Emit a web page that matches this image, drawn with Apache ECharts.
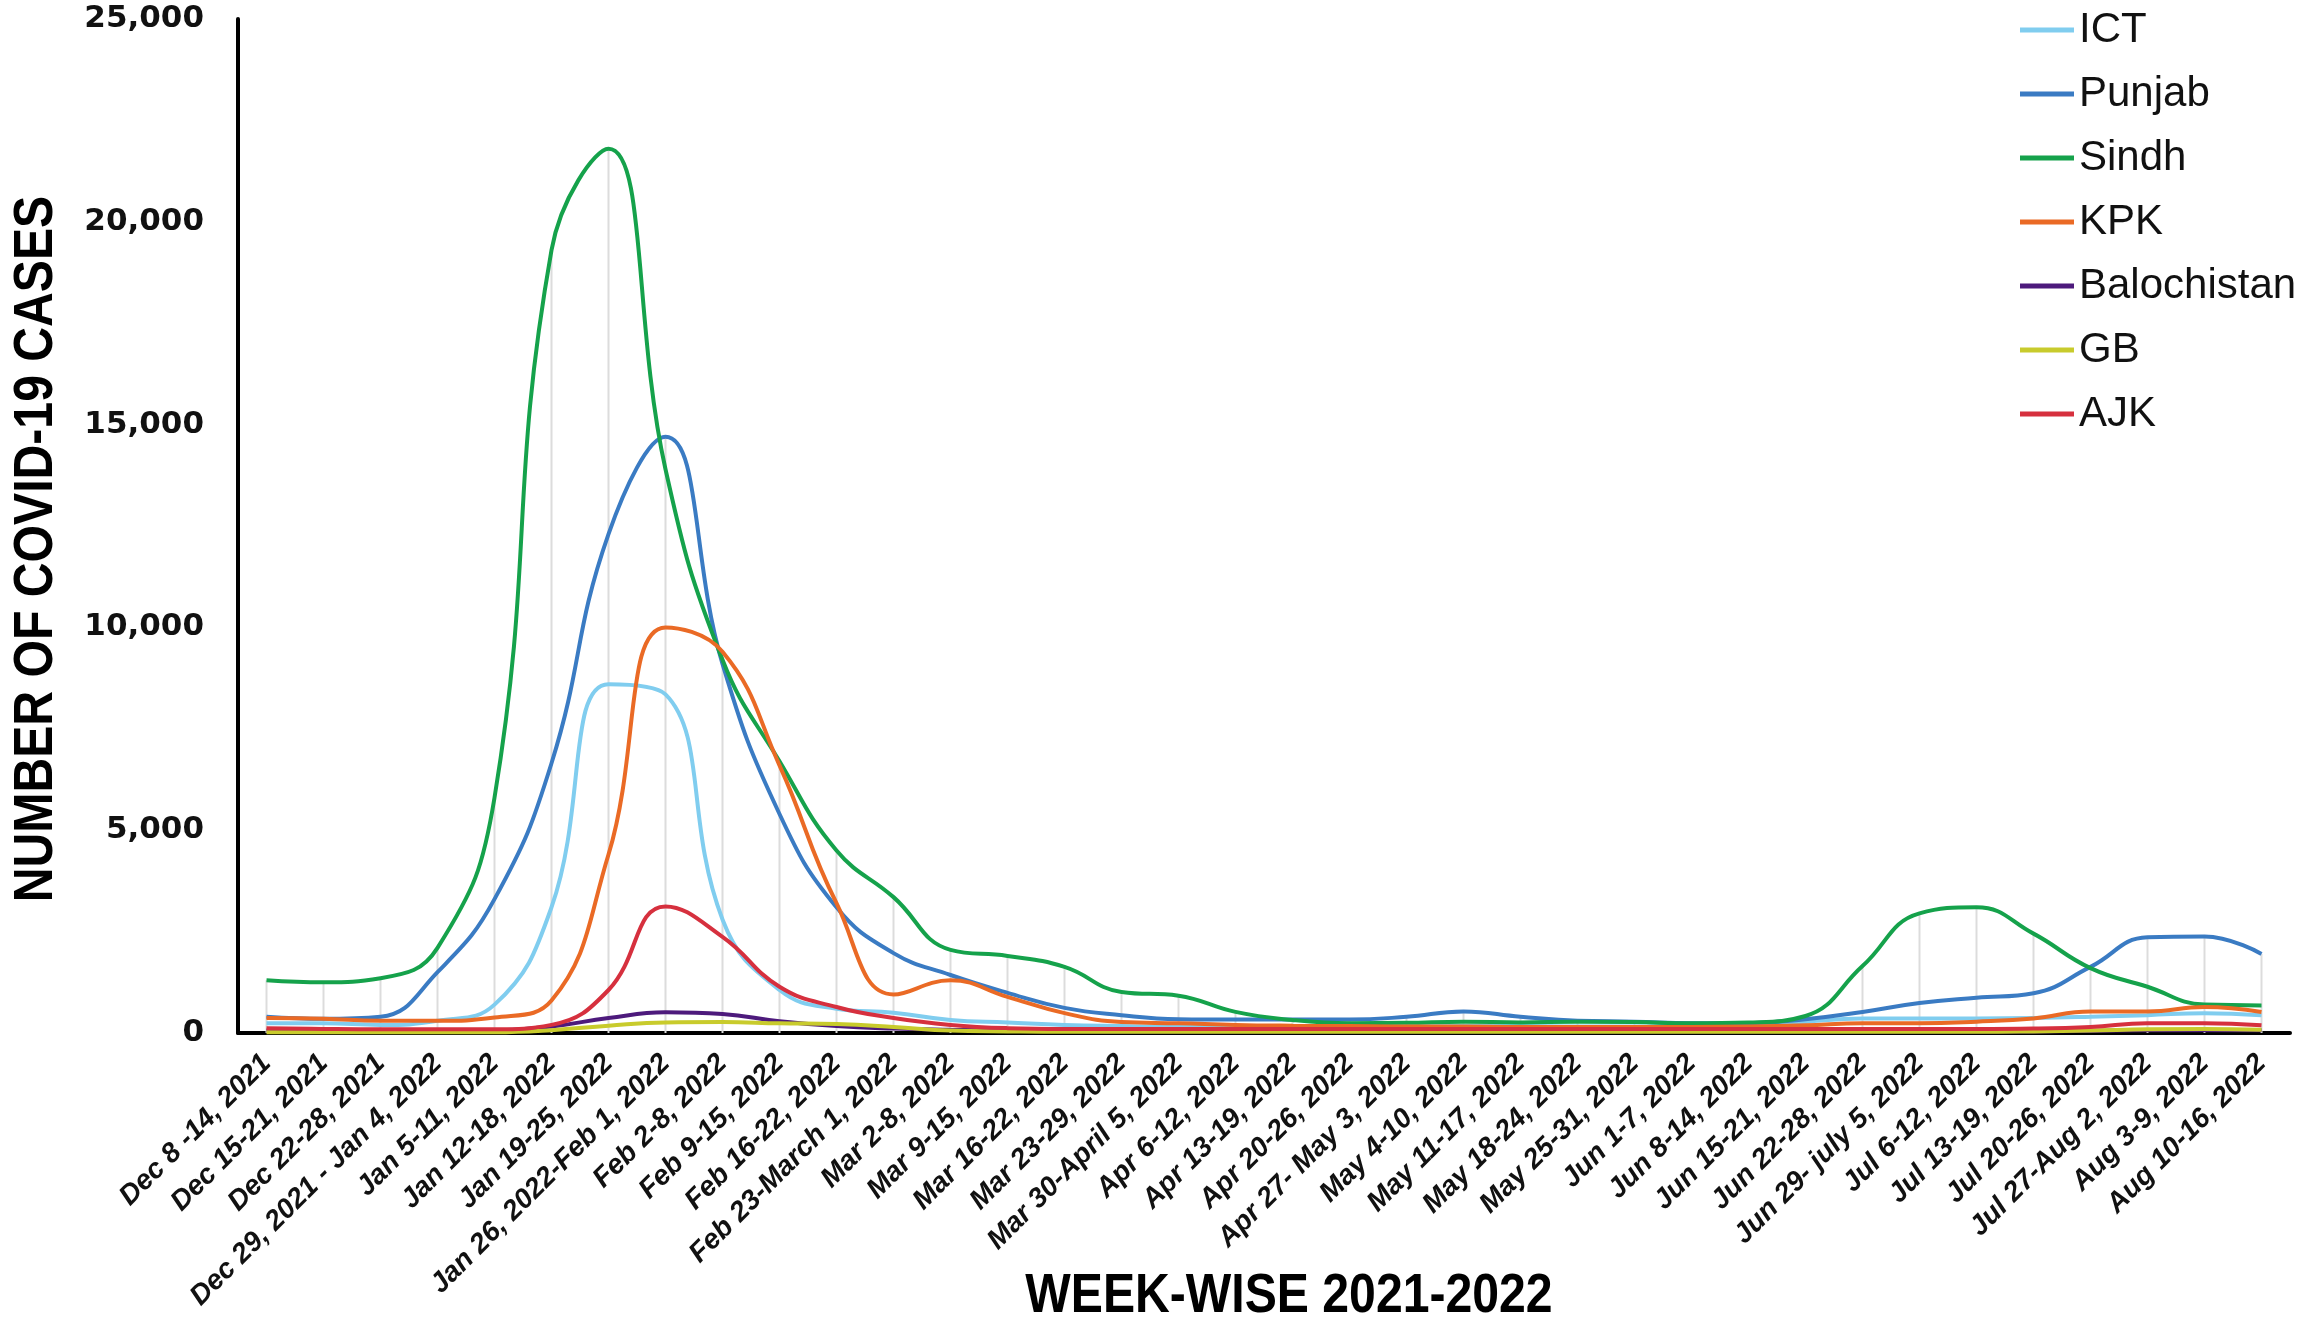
<!DOCTYPE html>
<html>
<head>
<meta charset="utf-8">
<script src="https://cdn.jsdelivr.net/npm/echarts@6/dist/echarts.min.js"></script>
<style>html,body{margin:0;padding:0;background:#fff;}#chart{width:2323px;height:1319px;}</style>
</head>
<body>
<div id="chart"></div>
<script>
const categories = ["Dec 8 -14, 2021","Dec 15-21, 2021","Dec 22-28, 2021","Dec 29, 2021 - Jan 4, 2022","Jan 5-11, 2022","Jan 12-18, 2022","Jan 19-25, 2022","Jan 26, 2022-Feb 1, 2022","Feb 2-8, 2022","Feb 9-15, 2022","Feb 16-22, 2022","Feb 23-March 1, 2022","Mar 2-8, 2022","Mar 9-15, 2022","Mar 16-22, 2022","Mar 23-29, 2022","Mar 30-April 5, 2022","Apr 6-12, 2022","Apr 13-19, 2022","Apr 20-26, 2022","Apr 27- May 3, 2022","May 4-10, 2022","May 11-17, 2022","May 18-24, 2022","May 25-31, 2022","Jun 1-7, 2022","Jun 8-14, 2022","Jun 15-21, 2022","Jun 22-28, 2022","Jun 29- july 5, 2022","Jul 6-12, 2022","Jul 13-19, 2022","Jul 20-26, 2022","Jul 27-Aug 2, 2022","Aug 3-9, 2022","Aug 10-16, 2022"];
const ict = [240,240,200,300,700,3100,8600,8350,2800,1060,600,500,320,260,200,170,150,150,150,150,160,170,170,160,160,150,160,280,360,360,360,370,400,440,490,440];
const punjab = [400,350,400,1500,3300,6650,12300,14700,9100,5400,3100,1970,1430,990,620,440,340,330,330,330,400,530,400,300,280,240,240,340,520,740,870,980,1630,2360,2380,1950];
const sindh = [1300,1250,1350,2100,5800,19300,21800,13900,9200,6700,4500,3350,2050,1900,1630,1010,920,520,320,240,250,280,260,280,270,240,260,420,1650,2950,3100,2450,1600,1140,700,680];
const kpk = [370,350,300,300,380,800,4400,10000,9400,6600,3200,950,1300,890,490,270,240,200,180,170,160,160,150,150,150,150,160,190,240,240,280,360,530,530,640,520];
const balochistan = [60,60,50,50,60,160,370,510,470,290,170,110,80,60,50,40,40,40,40,40,40,40,40,40,40,40,40,40,40,40,40,40,50,70,70,70];
const gb = [20,20,20,20,20,70,180,260,270,240,220,150,60,40,30,30,30,30,30,30,30,30,30,30,30,30,30,30,30,30,30,40,60,90,100,80];
const ajk = [120,100,90,90,90,200,1060,3120,2370,1140,640,370,200,120,100,100,100,100,100,100,100,100,100,100,100,100,100,100,100,100,100,110,150,240,240,190];
const yTicks = [0, 5000, 10000, 15000, 20000, 25000];
const xTitle = 'WEEK-WISE 2021-2022';
const yTitle = 'NUMBER OF COVID-19 CASES';

const seriesDefs = [
  {name: 'ICT', data: ict, color: '#80cdef'},
  {name: 'Punjab', data: punjab, color: '#3a7bc3'},
  {name: 'Sindh', data: sindh, color: '#15a24b'},
  {name: 'KPK', data: kpk, color: '#ea6a25'},
  {name: 'Balochistan', data: balochistan, color: '#4d1a7c'},
  {name: 'GB', data: gb, color: '#c8cb2c'},
  {name: 'AJK', data: ajk, color: '#d6303e'}
];
const dropTop = categories.map((c, i) => Math.max(...seriesDefs.map(s => s.data[i])));
const titleFont = 'bold 56px "Liberation Sans", Arial, sans-serif';

const chart = echarts.init(document.getElementById('chart'));
const option = {
  backgroundColor: '#ffffff',
  animation: false,
  graphic: [
    {
      type: 'text', x: 1289, y: 1297, scaleX: 0.86, silent: true,
      style: {text: xTitle, font: titleFont, fill: '#000', align: 'center', verticalAlign: 'middle'}
    },
    {
      type: 'text', x: 37, y: 549, rotation: Math.PI / 2, scaleX: 0.86, silent: true,
      style: {text: yTitle, font: titleFont, fill: '#000', align: 'center', verticalAlign: 'middle'}
    }
  ],
  legend: {
    data: seriesDefs.map(s => s.name),
    orient: 'vertical',
    left: 2015,
    top: 4,
    icon: 'rect',
    itemWidth: 54,
    itemHeight: 5,
    itemGap: 22,
    textStyle: {fontFamily: 'Liberation Sans, Arial, sans-serif', fontSize: 42, color: '#111', lineHeight: 42}
  },
  grid: {left: 238, right: 33, top: 19, bottom: 286, outerBoundsMode: 'none', containLabel: false},
  xAxis: {
    type: 'category',
    data: categories,
    boundaryGap: true,
    axisLine: {lineStyle: {color: '#000', width: 4}},
    axisTick: {show: false},
    splitLine: {show: false},
    axisLabel: {
      interval: 0, rotate: 45, margin: 26,
      fontFamily: 'Liberation Sans, Arial, sans-serif', fontStyle: 'italic', fontWeight: 'bold', fontSize: 28, color: '#111'
    }
  },
  yAxis: {
    type: 'value',
    min: yTicks[0],
    max: yTicks[yTicks.length - 1],
    interval: yTicks[1] - yTicks[0],
    axisLine: {show: true, lineStyle: {color: '#000', width: 4}},
    axisTick: {show: false},
    splitLine: {show: false},
    axisLabel: {
      margin: 34,
      fontFamily: 'DejaVu Sans, sans-serif', fontWeight: 'bold', fontSize: 31, color: '#111',
      formatter: v => v.toLocaleString('en-US')
    }
  },
  series: [
    {
      name: 'drop', type: 'bar', data: dropTop, barWidth: 2, silent: true, z: 1,
      itemStyle: {color: '#dcdcdc'}, legendHoverLink: false
    }
  ].concat(seriesDefs.map(s => ({
    name: s.name, type: 'line', data: s.data, smooth: 0.45, symbol: 'none', showSymbol: false, z: 3,
    color: s.color,
    lineStyle: {color: s.color, width: 4},
    itemStyle: {color: s.color}
  })))
};
chart.setOption(option);
</script>
</body>
</html>
